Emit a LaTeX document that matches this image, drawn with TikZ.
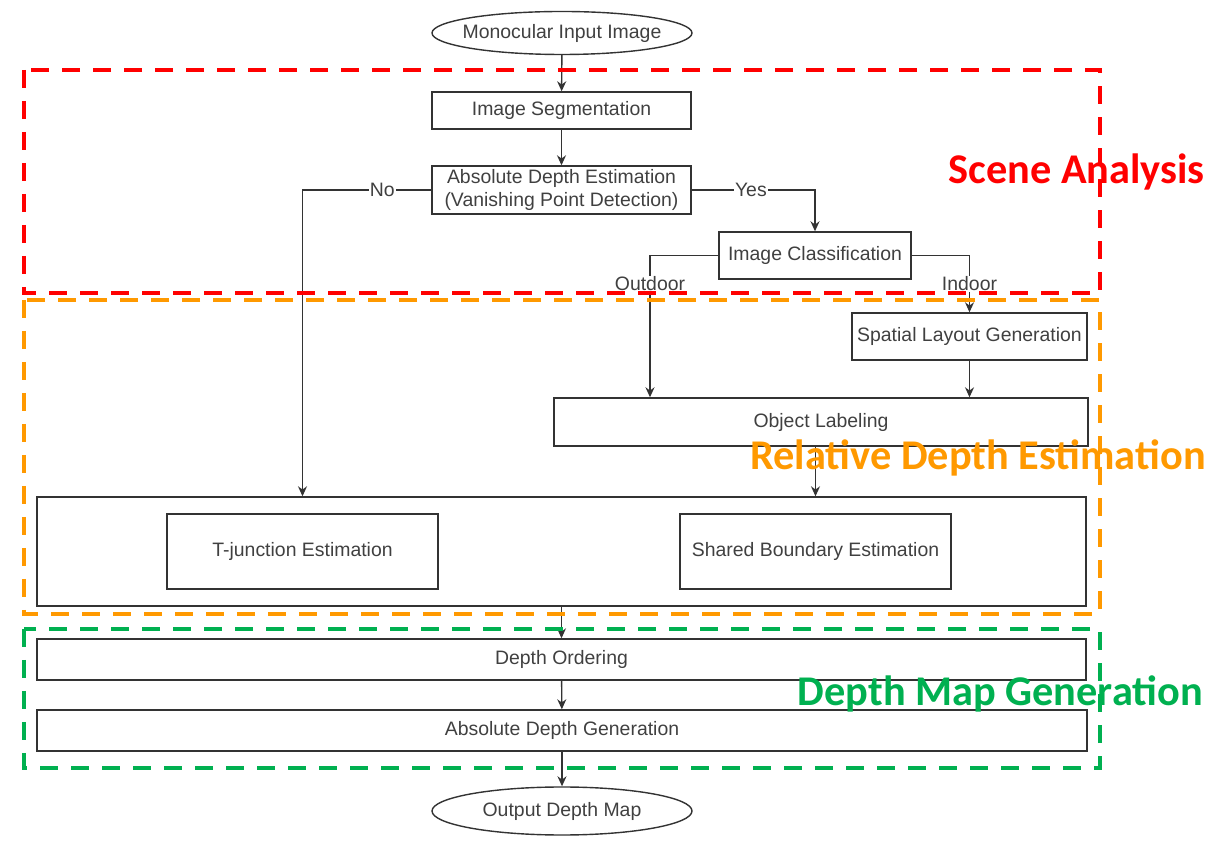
\documentclass[tikz,border=0pt]{standalone}
\usepackage{fontspec}
\setmainfont{Liberation Sans}
\newfontfamily\titlefont{Carlito}
\usetikzlibrary{shapes.geometric,arrows.meta}
\definecolor{txtgray}{HTML}{404040}
\definecolor{linegray}{HTML}{333333}
\definecolor{sceneRed}{HTML}{FF0000}
\definecolor{relOrange}{HTML}{FF9900}
\definecolor{mapGreen}{HTML}{00B050}
\begin{document}
\begin{tikzpicture}[>={Stealth[length=10bp,width=9bp]},
  every node/.style={font=\fontsize{19.5}{23}\selectfont,text=txtgray},
  box/.style={draw=linegray,line width=1.4bp,rectangle,inner sep=0pt},
  oval/.style={draw=linegray,line width=1.4bp,ellipse,inner xsep=-8bp,inner ysep=0pt},
  edgelbl/.style={fill=white,inner sep=1bp},
  frame/.style={line width=4bp,dash pattern=on 18bp off 13bp},
  title/.style={anchor=east,font=\titlefont\fontsize{42.5}{50}\selectfont\bfseries,inner sep=0pt}]
  \useasboundingbox (0,0) rectangle (1212bp,842bp);
  \node (MonoIn) at (562bp,809bp) [oval,minimum width=260bp,minimum height=43bp] {Monocular Input Image};
  \node (ImgSeg) at (561.5bp,731.5bp) [box,minimum width=259bp,minimum height=37bp] {Image Segmentation};
  \node (AbsDepthEst) at (561.5bp,652bp) [box,minimum width=259bp,minimum height=48bp,align=center] {Absolute Depth Estimation\\(Vanishing Point Detection)};
  \node (ImgClass) at (815bp,586.5bp) [box,minimum width=192bp,minimum height=47bp] {Image Classification};
  \node (SpatialLayout) at (969.5bp,505.5bp) [box,minimum width=235bp,minimum height=47bp] {Spatial Layout Generation};
  \node (ObjLabel) at (821bp,420bp) [box,minimum width=534bp,minimum height=48bp] {Object Labeling};
  \node (BigBox) at (561.5bp,290.5bp) [box,minimum width=1049bp,minimum height=109bp] {};
  \node (TJunction) at (302.5bp,290.5bp) [box,minimum width=271bp,minimum height=75bp] {T-junction Estimation};
  \node (SharedBoundary) at (815.5bp,290.5bp) [box,minimum width=271bp,minimum height=75bp] {Shared Boundary Estimation};
  \node (DepthOrder) at (561.5bp,182.5bp) [box,minimum width=1049bp,minimum height=41bp] {Depth Ordering};
  \node (AbsDepthGen) at (562bp,111.5bp) [box,minimum width=1050bp,minimum height=41bp] {Absolute Depth Generation};
  \node (OutMap) at (562bp,31bp) [oval,minimum width=260bp,minimum height=48bp] {Output Depth Map};
  % connectors
  \draw [->,linegray,line width=1.4bp] (MonoIn) -- (ImgSeg);
  \draw [->,linegray,line width=1.4bp] (ImgSeg) -- (AbsDepthEst);
  \draw [->,linegray,line width=1.4bp] (AbsDepthEst.west) -| node[edgelbl,pos=0.19] {No} (TJunction.north |- BigBox.north);
  \draw [->,linegray,line width=1.4bp] (AbsDepthEst.east) -| node[edgelbl,pos=0.24] {Yes} (ImgClass.north);
  \draw [->,linegray,line width=1.4bp] (ImgClass.west) -| node[edgelbl,pos=0.6] {Outdoor} ([xshift=-171bp]ObjLabel.north);
  \draw [->,linegray,line width=1.4bp] (ImgClass.east) -| node[edgelbl,pos=0.75] {Indoor} (SpatialLayout.north);
  \draw [->,linegray,line width=1.4bp] (SpatialLayout.south) -- (SpatialLayout.south |- ObjLabel.north);
  \draw [->,linegray,line width=1.4bp] (ObjLabel.south -| SharedBoundary) -- (SharedBoundary |- BigBox.north);
  \draw [->,linegray,line width=1.4bp] (BigBox) -- (DepthOrder);
  \draw [->,linegray,line width=1.4bp] (DepthOrder) -- (AbsDepthGen);
  \draw [->,linegray,line width=1.4bp] (AbsDepthGen) -- (OutMap);
  % stage frames
  \draw [frame,sceneRed] (24bp,772bp) rectangle (1100bp,549bp);
  \draw [frame,relOrange] (24bp,542bp) rectangle (1100bp,228bp);
  \draw [frame,mapGreen] (24bp,213bp) rectangle (1100bp,74bp);
  \node (SceneTitle) at (1205bp,670bp) [title,text=sceneRed] {Scene Analysis};
  \node (RelTitle) at (1206bp,384bp) [title,text=relOrange] {Relative Depth Estimation};
  \node (MapTitle) at (1203bp,148bp) [title,text=mapGreen] {Depth Map Generation};
\end{tikzpicture}
\end{document}
